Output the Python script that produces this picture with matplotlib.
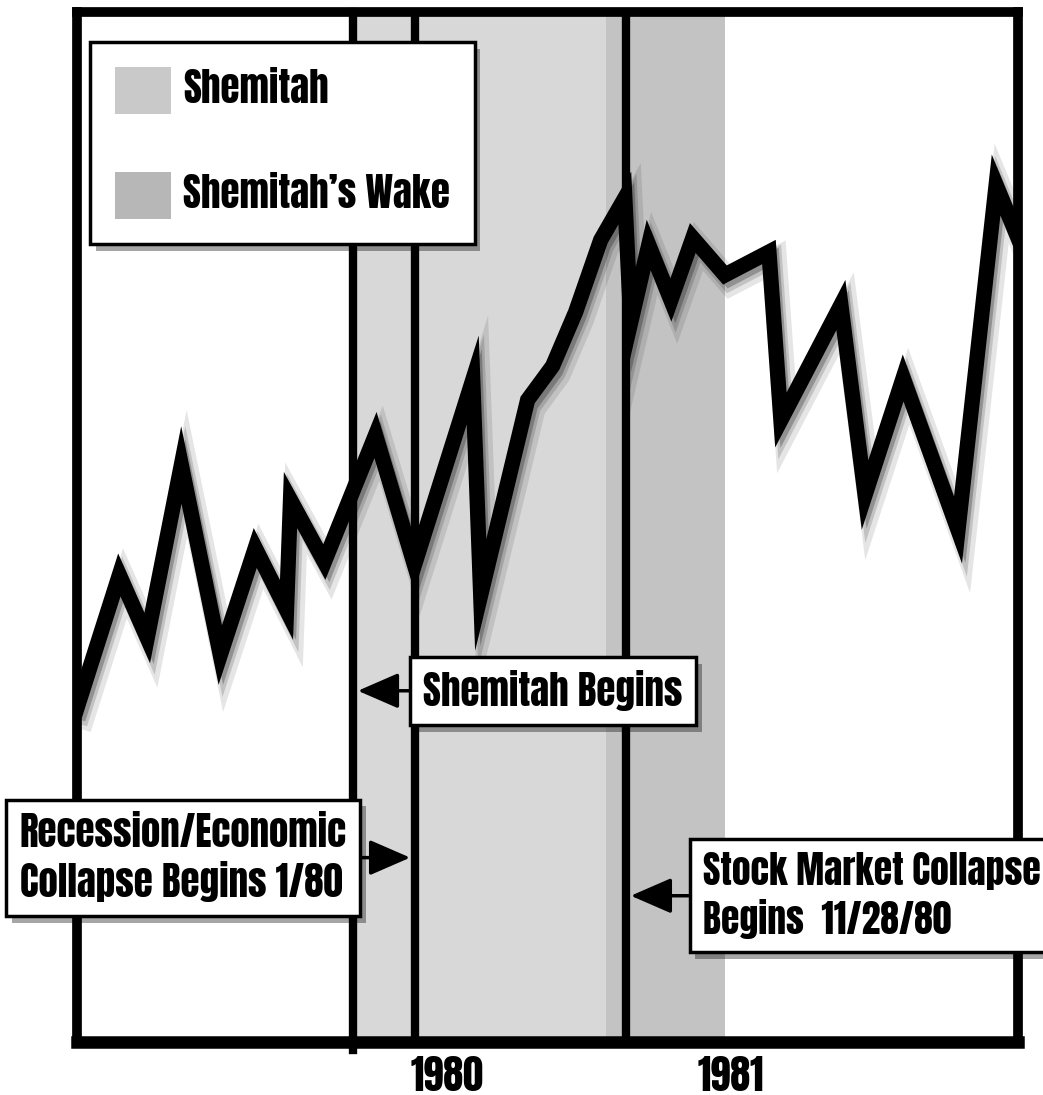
import matplotlib
matplotlib.use("Agg")
import matplotlib.pyplot as plt
from matplotlib.patches import Patch
import matplotlib.patheffects as pe

# index level (arbitrary units), x in fractional years
years = [1978.70, 1978.849, 1978.947, 1979.067, 1979.204, 1979.327, 1979.437,
         1979.451, 1979.570, 1979.750, 1979.887, 1980.092, 1980.120, 1980.285,
         1980.373, 1980.454, 1980.542, 1980.627, 1980.648, 1980.711, 1980.789,
         1980.866, 1980.979, 1981.134, 1981.176, 1981.387, 1981.472, 1981.606,
         1981.799, 1981.933, 1982.01]
level = [33.4, 46.7, 40.4, 57.7, 38.7, 49.4, 43.2,
         54.2, 48.0, 60.7, 47.7, 66.2, 44.7, 64.2,
         67.6, 73.0, 80.2, 84.4, 72.0, 79.7, 74.2,
         80.4, 76.7, 79.0, 62.2, 73.7, 54.7, 66.4,
         51.2, 85.7, 80.4]

shemitah_start = 1979.67
recession_start = 1979.89
shemitah_end = 1980.56
crash_start = 1980.63
wake_end = 1980.98

tick_years = [1980, 1981]
tick_labels = ["1980", "1981"]

legend_labels = ["Shemitah", "Shemitah\u2019s Wake"]

# Impact-like condensed heavy face, with fallbacks
font = ["Anton", "Barlow Condensed", "Liberation Sans Narrow", "DejaVu Sans"]

fig = plt.figure(figsize=(10.43, 10.95), dpi=100)
ax = fig.add_axes([77 / 1043, 53 / 1095, 941 / 1043, 1030 / 1095])
ax.set_xlim(1978.70, 1982.01)
ax.set_ylim(0, 103)

# shaded periods
ax.axvspan(shemitah_start, shemitah_end, color="#d8d8d8", lw=0, zorder=0)
ax.axvspan(shemitah_end, wake_end, color="#c3c3c3", lw=0, zorder=0)

# event lines
ax.axvline(shemitah_start, ymin=-0.008, ymax=1, color="black", lw=6,
           clip_on=False, zorder=3)
ax.axvline(recession_start, color="black", lw=6, zorder=3)
ax.axvline(crash_start, color="black", lw=6, zorder=3)

# the index line with a soft drop shadow
shadow = [
    pe.SimpleLineShadow(offset=(4, -6), shadow_color="k", alpha=0.10, linewidth=18),
    pe.SimpleLineShadow(offset=(3, -5), shadow_color="k", alpha=0.15, linewidth=13),
    pe.SimpleLineShadow(offset=(3, -4), shadow_color="k", alpha=0.25, linewidth=9),
    pe.Normal(),
]
ax.plot(years, level, color="black", lw=11, solid_joinstyle="miter",
        zorder=4, path_effects=shadow)

for side in ["left", "right", "top"]:
    ax.spines[side].set_linewidth(7)
ax.spines["bottom"].set_linewidth(9)
for sp in ax.spines.values():
    sp.set_zorder(6)

ax.set_yticks([])
ax.set_xticks(tick_years)
ax.set_xticklabels(tick_labels, family=font, weight="bold", fontsize=29)
ax.tick_params(axis="x", length=0, pad=10)

# legend
handles = [Patch(fc="#c9c9c9", ec="none", label=legend_labels[0]),
           Patch(fc="#b7b7b7", ec="none", label=legend_labels[1])]
leg = ax.legend(handles=handles, loc="upper left",
                bbox_to_anchor=(90 / 1043, 1 - 42 / 1095),
                bbox_transform=fig.transFigure, borderaxespad=0,
                fancybox=False, framealpha=1, edgecolor="black",
                handlelength=1.44, handleheight=1.49, labelspacing=1.49,
                handletextpad=0.31, borderpad=0.64,
                prop={"family": font, "weight": "bold", "size": 28})
leg.get_frame().set_linewidth(2.5)
leg.get_frame().set_path_effects([pe.withSimplePatchShadow(
    offset=(4, -5), shadow_rgbFace="black", alpha=0.35)])
leg.set_zorder(7)

# callouts
box = dict(boxstyle="square,pad=0.35", fc="white", ec="black", lw=2.5)
arrow = dict(arrowstyle="-|>,head_length=1.15,head_width=0.5", color="black",
             lw=2.5, mutation_scale=22, shrinkA=0, shrinkB=0)
box_shadow = pe.withSimplePatchShadow(offset=(4, -5), shadow_rgbFace="black",
                                      alpha=0.35)

callouts = [
    ("Shemitah Begins", (shemitah_start + 0.018, 0.341), (0.506, 0.341), 28),
    ("Recession/Economic\nCollapse Begins 1/80", (recession_start - 0.018, 0.179),
     (-0.061, 0.179), 28),
    ("Stock Market Collapse\nBegins  11/28/80", (crash_start + 0.018, 0.142),
     (0.665, 0.142), 27),
]
for i, (txt, xy, xytext, size) in enumerate(callouts):
    ha = "center" if i == 0 else "left"
    a = ax.annotate(txt, xy=xy, xycoords=("data", "axes fraction"),
                    xytext=xytext, textcoords="axes fraction",
                    ha=ha, va="center", multialignment="left",
                    family=font, weight="bold", fontsize=size, linespacing=1.25,
                    bbox=box, arrowprops=arrow, annotation_clip=False,
                    zorder=8)
    a.get_bbox_patch().set_path_effects([box_shadow])

fig.savefig("out.png", dpi=100, facecolor="white")
